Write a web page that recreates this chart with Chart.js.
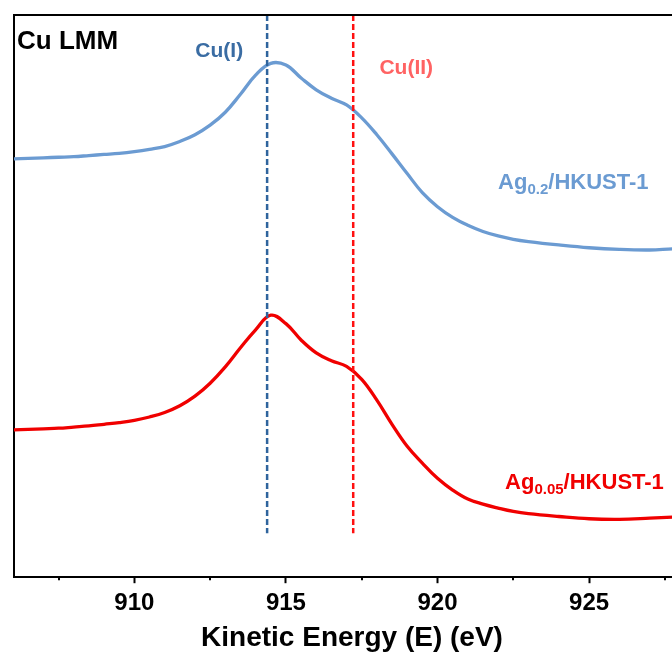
<!DOCTYPE html>
<html>
<head>
<meta charset="utf-8">
<title>Cu LMM</title>
<script src="https://cdn.jsdelivr.net/npm/chart.js@4"></script>
<style>
  html, body { margin: 0; padding: 0; overflow: hidden; background: #fff; }
  canvas { display: block; }
</style>
</head>
<body>
<canvas id="lmmChart" width="692" height="652"></canvas>
<script>
// Kinetic energy grid (eV) shared by both spectra
const energy = [906, 906.5, 907, 907.5, 908, 908.5, 909, 909.5, 910, 910.5, 911, 911.5,
  912, 912.5, 913, 913.5, 914, 914.5, 915, 915.5, 916, 916.5, 917, 917.5, 918,
  918.5, 919, 919.5, 920, 920.5, 921, 921.5, 922, 922.5, 923, 924, 925, 926, 927, 927.75, 928.4];

// Intensity (a.u., stacked)
const ag02 = [74.4, 74.5, 74.6, 74.7, 74.8, 75.0, 75.2, 75.4, 75.7, 76.1, 76.6, 77.5,
  78.7, 80.4, 82.7, 85.9, 89.3, 91.4, 91.1, 88.8, 86.7, 85.2, 84.0, 81.7, 78.7,
  75.3, 71.8, 68.4, 65.9, 64.0, 62.6, 61.5, 60.7, 60.1, 59.7, 59.1, 58.6, 58.3, 58.2, 58.4, 58.5];
const ag005 = [26.2, 26.3, 26.4, 26.5, 26.7, 26.9, 27.2, 27.5, 27.9, 28.5, 29.3, 30.5,
  32.2, 34.5, 37.4, 40.8, 44.0, 46.6, 45.1, 42.2, 39.9, 38.5, 37.5, 35.2, 31.5,
  27.2, 23.3, 20.3, 17.6, 15.5, 13.9, 13.0, 12.3, 11.7, 11.3, 10.8, 10.4, 10.3, 10.5, 10.7, 10.9];

// Reference positions for Cu(I) / Cu(II)
const cuIEnergy = 914.38;
const cuIIEnergy = 917.22;
const refSpan = [100, 7.8];

const xMin = 906.03;
const xMax = 928.33;

const FONT = 'Arial, "Liberation Sans", sans-serif';

const toPoints = (ys) => energy.map((e, i) => ({x: e, y: ys[i]}));
const refLine = (e) => refSpan.map(y => ({x: e, y: y}));

// frame top edge, minor ticks and the text labels
const decorations = {
  id: 'decorations',
  afterDraw(chart) {
    const {ctx, chartArea, scales: {x, y}} = chart;
    ctx.save();

    ctx.strokeStyle = '#000';
    ctx.lineWidth = 2;
    ctx.beginPath();
    ctx.moveTo(chartArea.left - 1, chartArea.top);
    ctx.lineTo(chartArea.right, chartArea.top);
    ctx.stroke();

    x.ticks.forEach(t => {
      if (t.value % 5 !== 0) {
        const px = Math.round(x.getPixelForValue(t.value));
        ctx.beginPath();
        ctx.moveTo(px, chartArea.bottom);
        ctx.lineTo(px, chartArea.bottom + 3);
        ctx.stroke();
      }
    });

    const text = (str, e, v, color, size, align) => {
      ctx.fillStyle = color;
      ctx.font = 'bold ' + size + 'px ' + FONT;
      ctx.textAlign = align || 'left';
      ctx.textBaseline = 'alphabetic';
      ctx.fillText(str, x.getPixelForValue(e), y.getPixelForValue(v));
    };

    text('Cu LMM', 906.13, 94.0, '#000', 26);
    text('Cu(I)', 912.8, 92.5, '#3a6ca3', 21, 'center');
    text('Cu(II)', 918.97, 89.5, '#ff6363', 21, 'center');

    const subLabel = (main, sub, rest, e, v, color) => {
      let px = x.getPixelForValue(e);
      const py = y.getPixelForValue(v);
      ctx.fillStyle = color;
      ctx.textAlign = 'left';
      ctx.font = 'bold 22px ' + FONT;
      ctx.fillText(main, px, py);
      px += ctx.measureText(main).width;
      ctx.font = 'bold 15px ' + FONT;
      ctx.fillText(sub, px, py + 5);
      px += ctx.measureText(sub).width;
      ctx.font = 'bold 22px ' + FONT;
      ctx.fillText(rest, px, py);
    };
    subLabel('Ag', '0.2', '/HKUST-1', 922.0, 69.0, '#6b9bd2');
    subLabel('Ag', '0.05', '/HKUST-1', 922.23, 15.7, '#f00000');

    ctx.restore();
  }
};

const chart = new Chart(document.getElementById('lmmChart'), {
  type: 'line',
  data: {
    datasets: [
      {
        label: 'Cu(I)',
        data: refLine(cuIEnergy),
        borderColor: '#2f649d',
        borderWidth: 2.5,
        borderDash: [6, 3],
        pointRadius: 0
      },
      {
        label: 'Cu(II)',
        data: refLine(cuIIEnergy),
        borderColor: '#ff1010',
        borderWidth: 2.5,
        borderDash: [6, 3],
        pointRadius: 0
      },
      {
        label: 'Ag0.2/HKUST-1',
        data: toPoints(ag02),
        borderColor: '#6b9bd2',
        borderWidth: 3.3,
        pointRadius: 0,
        tension: 0.4
      },
      {
        label: 'Ag0.05/HKUST-1',
        data: toPoints(ag005),
        borderColor: '#f00000',
        borderWidth: 3.3,
        pointRadius: 0,
        tension: 0.4
      }
    ]
  },
  options: {
    responsive: false,
    animation: false,
    layout: { padding: { left: 6, right: 2, top: 15, bottom: 0 } },
    plugins: {
      legend: { display: false },
      tooltip: { enabled: false }
    },
    scales: {
      x: {
        type: 'linear',
        min: xMin,
        max: xMax,
        border: { color: '#000', width: 2 },
        grid: {
          drawOnChartArea: false,
          drawTicks: true,
          tickLength: 6,
          tickWidth: 2,
          tickColor: (c) => (c.tick && c.tick.value % 5 === 0) ? '#000' : 'rgba(0,0,0,0)'
        },
        ticks: {
          stepSize: 2.5,
          includeBounds: false,
          autoSkip: false,
          maxRotation: 0,
          padding: 6,
          color: '#000',
          font: { family: FONT, size: 24, weight: 'bold' },
          callback: (v) => v % 5 === 0 ? String(v) : ''
        },
        title: {
          display: true,
          text: 'Kinetic Energy (E) (eV)',
          color: '#000',
          font: { family: FONT, size: 28, weight: 'bold', lineHeight: 1 },
          padding: { top: 0, bottom: 0 }
        }
      },
      y: {
        min: 0,
        max: 100,
        border: { color: '#000', width: 2 },
        grid: { display: false },
        ticks: { display: false }
      }
    }
  },
  plugins: [decorations]
});
</script>
</body>
</html>
